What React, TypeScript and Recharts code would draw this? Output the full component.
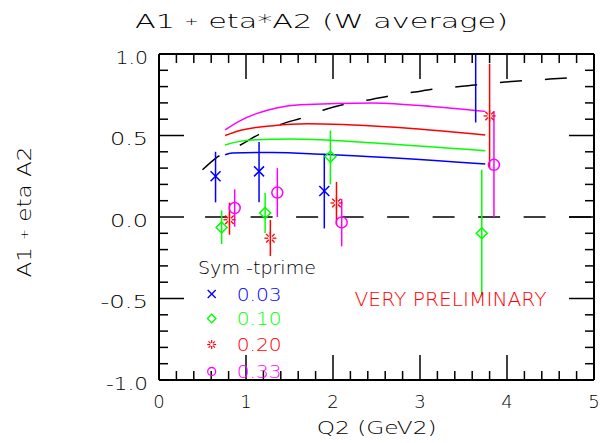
import React from "react";
import { ComposedChart, XAxis, YAxis, Line, Scatter, ErrorBar } from "recharts";

// axis ticks (minor every 0.2 in Q2, every 0.1 in asymmetry)
const xTicks = [0, 0.2, 0.4, 0.6, 0.8, 1, 1.2, 1.4, 1.6, 1.8, 2, 2.2, 2.4, 2.6, 2.8, 3, 3.2, 3.4, 3.6, 3.8, 4, 4.2, 4.4, 4.6, 4.8, 5];
const yTicks = [-1, -0.9, -0.8, -0.7, -0.6, -0.5, -0.4, -0.3, -0.2, -0.1, 0, 0.1, 0.2, 0.3, 0.4, 0.5, 0.6, 0.7, 0.8, 0.9, 1];
const xTickLabels = ["0", "1", "2", "3", "4", "5"];
const yTickLabels = ["-1.0", "-0.5", "0.0", "0.5", "1.0"];

// data points: -t' = 0.03 (last one sits above the frame, only its bar shows)
const q2_003 = [0.65, 1.15, 1.9, 3.64];
const val_003 = [0.25, 0.28, 0.16, 1.1];
const lo_003 = [0.09, 0.09, -0.07, 0.58];
const hi_003 = [0.4, 0.46, 0.38, 1.0];

// -t' = 0.10
const q2_010 = [0.72, 1.22, 1.97, 3.71];
const val_010 = [-0.064, 0.025, 0.37, -0.1];
const lo_010 = [-0.166, -0.098, 0.2, -0.49];
const hi_010 = [0.04, 0.147, 0.53, 0.29];

// -t' = 0.20
const q2_020 = [0.81, 1.28, 2.04, 3.8];
const val_020 = [-0.017, -0.13, 0.086, 0.62];
const lo_020 = [-0.109, -0.24, -0.047, 0.3];
const hi_020 = [0.088, -0.018, 0.215, 0.94];

// -t' = 0.33
const q2_033 = [0.87, 1.36, 2.1, 3.85];
const val_033 = [0.055, 0.15, -0.033, 0.32];
const lo_033 = [-0.06, 0.0, -0.18, 0.0];
const hi_033 = [0.17, 0.3, 0.11, 0.65];

// model curves
const blueCurveQ2 = [0.76, 0.84, 1.31, 1.89, 3.75];
const blueCurveVal = [0.382, 0.393, 0.396, 0.385, 0.325];
const greenCurveQ2 = [0.76, 0.93, 1.12, 1.51, 2.6, 3.75];
const greenCurveVal = [0.442, 0.464, 0.474, 0.478, 0.45, 0.407];
const redCurveQ2 = [0.76, 0.93, 1.31, 1.7, 2.66, 3.75];
const redCurveVal = [0.5, 0.531, 0.56, 0.572, 0.552, 0.503];
const magentaCurveQ2 = [0.76, 0.93, 1.12, 1.35, 1.62, 2.46, 3.2, 3.75];
const magentaCurveVal = [0.535, 0.59, 0.634, 0.669, 0.689, 0.7, 0.675, 0.648];

// black dashed curve
const dashCurveQ2 = [0.5, 0.65, 0.93, 1.16, 1.41, 1.66, 1.91, 2.16, 2.43, 2.67, 2.94, 3.19, 3.46, 3.73, 3.98, 4.25, 4.49, 4.76];
const dashCurveVal = [0.29, 0.36, 0.44, 0.51, 0.57, 0.61, 0.66, 0.695, 0.72, 0.745, 0.767, 0.787, 0.8, 0.816, 0.828, 0.838, 0.846, 0.856];

// zero line
const zeroQ2 = [0.53, 5];
const zeroVal = [0, 0];

const legendLabels = ["0.03", "0.10", "0.20", "0.33"];

const BLUE = "#0000ff";
const GREEN = "#00ff00";
const RED = "#ff0000";
const MAGENTA = "#ff00ff";
const FONT = "'DejaVu Sans', sans-serif";
const FW = 200;

const toLine = (xs: number[], ys: number[]) => xs.map((x, i) => ({ x, y: ys[i] }));
const toPoints = (xs: number[], ys: number[], lo: number[], hi: number[]) =>
  xs.map((x, i) => ({ x, y: ys[i], err: [ys[i] - lo[i], hi[i] - ys[i]] }));

const pts003 = toPoints(q2_003, val_003, lo_003, hi_003);
const pts010 = toPoints(q2_010, val_010, lo_010, hi_010);
const pts020 = toPoints(q2_020, val_020, lo_020, hi_020);
const pts033 = toPoints(q2_033, val_033, lo_033, hi_033);

// rough widths of the plotter font
const labelWidth = (s: string) =>
  s.split("").reduce((w, c) => w + (c === "." ? 15 : c === "-" ? 9.5 : c === "1" ? 6 : 11.5), 0);

const isInt = (v: number) => Math.abs(v - Math.round(v)) < 1e-6;
const isHalf = (v: number) => Math.abs(v * 2 - Math.round(v * 2)) < 1e-6;

const BottomTick = (p: any) => {
  const { x, y, payload } = p;
  const v = payload.value;
  const major = isInt(v);
  const len = major ? 25 : 9;
  return (
    <g>
      <line x1={x} y1={y} x2={x} y2={y - len} stroke="#000" strokeWidth={1.5} />
      {major && (
        <text x={x} y={y + 28} textAnchor="middle" fontFamily={FONT} fontWeight={FW} fontSize={18} fill="#000">
          {xTickLabels[Math.round(v)]}
        </text>
      )}
    </g>
  );
};

const TopTick = (p: any) => {
  const { x, y, payload } = p;
  const len = isInt(payload.value) ? 25 : 9;
  return <line x1={x} y1={y} x2={x} y2={y + len} stroke="#000" strokeWidth={1.5} />;
};

const LeftTick = (p: any) => {
  const { x, y, payload } = p;
  const v = payload.value;
  const major = isHalf(v);
  const len = major ? 25 : 9;
  const label = major ? yTickLabels[Math.round((v + 1) * 2)] : "";
  return (
    <g>
      <line x1={x} y1={y} x2={x + len} y2={y} stroke="#000" strokeWidth={1.5} />
      {major && (
        <text
          x={x - 11}
          y={y + 9.5}
          textAnchor="end"
          fontFamily={FONT}
          fontWeight={FW}
          fontSize={18}
          fill="#000"
          textLength={labelWidth(label)}
          lengthAdjust="spacingAndGlyphs"
        >
          {label}
        </text>
      )}
    </g>
  );
};

const RightTick = (p: any) => {
  const { x, y, payload } = p;
  const len = isHalf(payload.value) ? 25 : 9;
  return <line x1={x} y1={y} x2={x - len} y2={y} stroke="#000" strokeWidth={1.5} />;
};

const CrossShape = (p: any) => {
  const { cx, cy } = p;
  const s = 5;
  return (
    <g stroke={BLUE} strokeWidth={1.5}>
      <line x1={cx - s} y1={cy - s} x2={cx + s} y2={cy + s} />
      <line x1={cx - s} y1={cy + s} x2={cx + s} y2={cy - s} />
    </g>
  );
};

const DiamondShape = (p: any) => {
  const { cx, cy } = p;
  const s = 5.5;
  return (
    <polygon
      points={`${cx},${cy - s} ${cx + s},${cy} ${cx},${cy + s} ${cx - s},${cy}`}
      fill="none"
      stroke={GREEN}
      strokeWidth={1.5}
    />
  );
};

const starSpokes = (cx: number, cy: number, r1: number, r2: number) =>
  [0, 45, 90, 135, 180, 225, 270, 315].map((a) => {
    const t = (a * Math.PI) / 180;
    return (
      <line
        key={a}
        x1={cx + r1 * Math.cos(t)}
        y1={cy + r1 * Math.sin(t)}
        x2={cx + r2 * Math.cos(t)}
        y2={cy + r2 * Math.sin(t)}
      />
    );
  });

const StarShape = (p: any) => {
  const { cx, cy } = p;
  return (
    <g stroke={RED} strokeWidth={1.3}>
      {starSpokes(cx, cy, 2.2, 6)}
    </g>
  );
};

const CircleShape = (p: any) => {
  const { cx, cy } = p;
  return <circle cx={cx} cy={cy} r={5.5} fill="none" stroke={MAGENTA} strokeWidth={1.5} />;
};

export default function App() {
  const W = 610;
  const H = 443;
  const legendY = [294, 318.5, 344.5, 371.5];
  const legendColors = [BLUE, GREEN, RED, MAGENTA];
  const mx = 211.7;

  return (
    <div style={{ position: "absolute", left: 0, top: 0, width: W, height: H, background: "#fff" }}>
      <ComposedChart width={W} height={H} margin={{ top: 44, right: 6, left: 99, bottom: 23 }}>
        <XAxis
          xAxisId="b"
          dataKey="x"
          type="number"
          domain={[0, 5]}
          ticks={xTicks}
          interval={0}
          allowDataOverflow
          height={40}
          tickSize={0}
          tickMargin={0}
          tickLine={false}
          tick={<BottomTick />}
          axisLine={{ stroke: "#000", strokeWidth: 2 }}
        />
        <XAxis
          xAxisId="t"
          orientation="top"
          dataKey="x"
          type="number"
          domain={[0, 5]}
          ticks={xTicks}
          interval={0}
          allowDataOverflow
          height={10}
          tickSize={0}
          tickMargin={0}
          tickLine={false}
          tick={<TopTick />}
          axisLine={{ stroke: "#000", strokeWidth: 2 }}
        />
        <YAxis
          yAxisId="l"
          dataKey="y"
          type="number"
          domain={[-1, 1]}
          ticks={yTicks}
          interval={0}
          allowDataOverflow
          width={60}
          tickSize={0}
          tickMargin={0}
          tickLine={false}
          tick={<LeftTick />}
          axisLine={{ stroke: "#000", strokeWidth: 2 }}
        />
        <YAxis
          yAxisId="r"
          orientation="right"
          dataKey="y"
          type="number"
          domain={[-1, 1]}
          ticks={yTicks}
          interval={0}
          allowDataOverflow
          width={10}
          tickSize={0}
          tickMargin={0}
          tickLine={false}
          tick={<RightTick />}
          axisLine={{ stroke: "#000", strokeWidth: 2 }}
        />

        <Line
          xAxisId="t"
          yAxisId="r"
          data={toLine(zeroQ2, zeroVal)}
          dataKey="y"
          type="linear"
          stroke="#000"
          strokeWidth={1.5}
          strokeDasharray="22 23.5"
          dot={false}
          activeDot={false}
          isAnimationActive={false}
        />
        <Line
          xAxisId="b"
          yAxisId="l"
          data={toLine(dashCurveQ2, dashCurveVal)}
          dataKey="y"
          type="monotone"
          stroke="#000"
          strokeWidth={1.5}
          strokeDasharray="22 23"
          dot={false}
          activeDot={false}
          isAnimationActive={false}
        />
        <Line xAxisId="b" yAxisId="l" data={toLine(blueCurveQ2, blueCurveVal)} dataKey="y" type="monotone" stroke={BLUE} strokeWidth={1.5} dot={false} activeDot={false} isAnimationActive={false} />
        <Line xAxisId="b" yAxisId="l" data={toLine(greenCurveQ2, greenCurveVal)} dataKey="y" type="monotone" stroke={GREEN} strokeWidth={1.5} dot={false} activeDot={false} isAnimationActive={false} />
        <Line xAxisId="b" yAxisId="l" data={toLine(redCurveQ2, redCurveVal)} dataKey="y" type="monotone" stroke={RED} strokeWidth={1.5} dot={false} activeDot={false} isAnimationActive={false} />
        <Line xAxisId="b" yAxisId="l" data={toLine(magentaCurveQ2, magentaCurveVal)} dataKey="y" type="monotone" stroke={MAGENTA} strokeWidth={1.5} dot={false} activeDot={false} isAnimationActive={false} />

        <Scatter xAxisId="b" yAxisId="l" data={pts003} dataKey="y" shape={CrossShape} isAnimationActive={false}>
          <ErrorBar dataKey="err" direction="y" width={0} stroke={BLUE} strokeWidth={1.5} />
        </Scatter>
        <Scatter xAxisId="b" yAxisId="l" data={pts010} dataKey="y" shape={DiamondShape} isAnimationActive={false}>
          <ErrorBar dataKey="err" direction="y" width={0} stroke={GREEN} strokeWidth={1.5} />
        </Scatter>
        <Scatter xAxisId="b" yAxisId="l" data={pts020} dataKey="y" shape={StarShape} isAnimationActive={false}>
          <ErrorBar dataKey="err" direction="y" width={0} stroke={RED} strokeWidth={1.5} />
        </Scatter>
        <Scatter xAxisId="b" yAxisId="l" data={pts033} dataKey="y" shape={CircleShape} isAnimationActive={false}>
          <ErrorBar dataKey="err" direction="y" width={0} stroke={MAGENTA} strokeWidth={1.5} />
        </Scatter>
      </ComposedChart>

      <svg
        width={W}
        height={H}
        style={{ position: "absolute", left: 0, top: 0, pointerEvents: "none" }}
        fontFamily={FONT}
        fontWeight={FW}
      >
        <text x={321.5} y={28} textAnchor="middle" fontSize={20} fill="#000" textLength={373} lengthAdjust="spacingAndGlyphs">
          A1 <tspan fontSize={11} dy={-3}>+</tspan>
          <tspan dy={3}> eta*A2 (W average)</tspan>
        </text>
        <text
          x={0}
          y={0}
          transform="translate(31,212) rotate(-90)"
          textAnchor="middle"
          fontSize={20}
          fill="#000"
          textLength={131}
          lengthAdjust="spacingAndGlyphs"
        >
          A1 <tspan fontSize={11} dy={-3}>+</tspan>
          <tspan dy={3}> eta A2</tspan>
        </text>
        <text x={376.7} y={434} textAnchor="middle" fontSize={18} fill="#000" textLength={120} lengthAdjust="spacingAndGlyphs">
          Q2 (GeV2)
        </text>
        <text x={450.5} y={306} textAnchor="middle" fontSize={19} fill={RED} textLength={192} lengthAdjust="spacingAndGlyphs">
          VERY PRELIMINARY
        </text>

        <text x={198} y={274} fontSize={17} fill="#000" textLength={118} lengthAdjust="spacingAndGlyphs">
          Sym -tprime
        </text>
        {legendLabels.map((lab, i) => (
          <text
            key={lab}
            x={236.7}
            y={legendY[i] + 6.5}
            fontSize={18}
            fill={legendColors[i]}
            textLength={45}
            lengthAdjust="spacingAndGlyphs"
          >
            {lab}
          </text>
        ))}
        <g stroke={BLUE} strokeWidth={1.3}>
          <line x1={mx - 4} y1={legendY[0] - 4} x2={mx + 4} y2={legendY[0] + 4} />
          <line x1={mx - 4} y1={legendY[0] + 4} x2={mx + 4} y2={legendY[0] - 4} />
        </g>
        <polygon
          points={`${mx},${legendY[1] - 4.3} ${mx + 4.3},${legendY[1]} ${mx},${legendY[1] + 4.3} ${mx - 4.3},${legendY[1]}`}
          fill="none"
          stroke={GREEN}
          strokeWidth={1.3}
        />
        <g stroke={RED} strokeWidth={1.2}>
          {starSpokes(mx, legendY[2], 1.6, 4.5)}
        </g>
        <circle cx={mx} cy={legendY[3]} r={4} fill="none" stroke={MAGENTA} strokeWidth={1.3} />
      </svg>
    </div>
  );
}
